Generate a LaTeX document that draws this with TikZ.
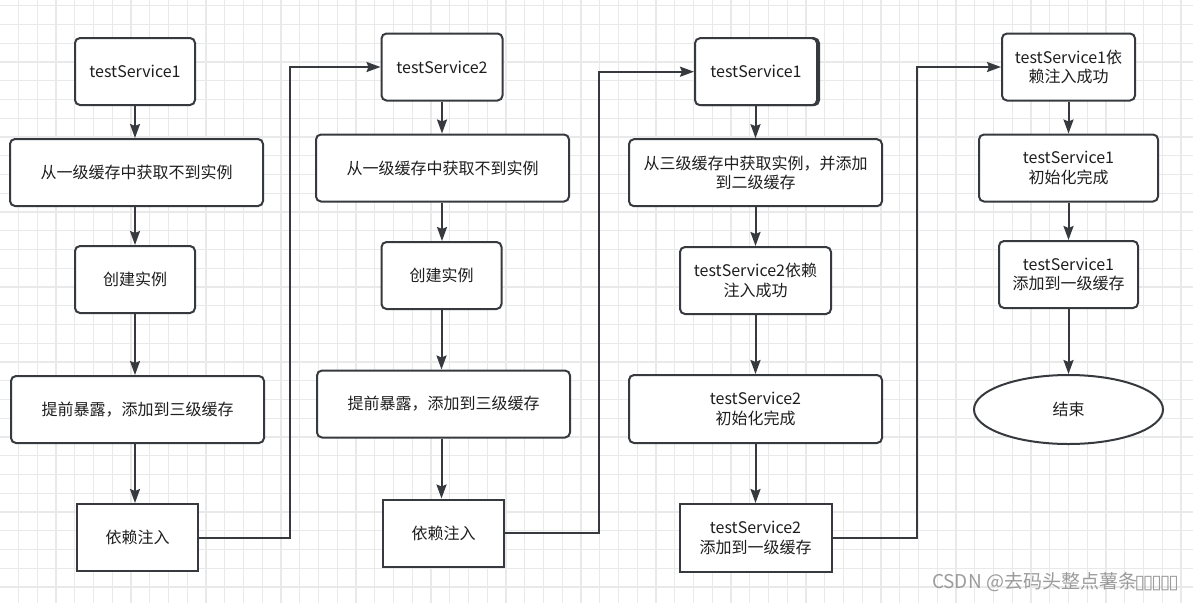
\documentclass[tikz,border=0pt]{standalone}
\usepackage{fontspec}
\setmainfont{Noto Sans CJK SC}
\newfontfamily\symfont{DejaVu Sans}
\usetikzlibrary{arrows.meta,shapes.geometric,calc}
\definecolor{edge}{HTML}{36393D}
\definecolor{txt}{HTML}{1E1E1E}
\definecolor{gridc}{HTML}{E9E9E9}
\definecolor{wm}{HTML}{9C9C9C}
\tikzset{
  gridline/.style={draw=gridc,line width=1.4pt},
  box/.style={draw=edge,line width=2pt,fill=white,rounded corners=5pt,align=center,
    text=txt,font=\fontsize{16}{19.5}\selectfont,inner sep=0pt},
  sqbox/.style={box,rounded corners=0pt},
  endnode/.style={draw=edge,line width=2pt,fill=white,ellipse,inner sep=0pt,
    text=txt,font=\fontsize{16}{19.5}\selectfont},
  arr/.style={draw=edge,line width=2pt,-{Stealth[length=14pt,width=10pt,inset=2pt]}},
}
\begin{document}
\begin{tikzpicture}[x=1pt,y=-1pt]
\useasboundingbox (0,0) rectangle (1193,603);
\fill[white] (0,0) rectangle (1193,603);
% grid
\foreach \i in {0,...,62} { \draw[gridline] ({18.5+\i*18.75},0) -- ({18.5+\i*18.75},603); }
\foreach \j in {0,...,31} { \draw[gridline] (0,{5.7+\j*18.75}) -- (1193,{5.7+\j*18.75}); }

% column 1
\node[box,minimum width=120pt,minimum height=67pt] (a1) at (135,71.5) {testService1};
\node[box,minimum width=253pt,minimum height=67pt] (a2) at (136.5,172.5) {从一级缓存中获取不到实例};
\node[box,minimum width=120pt,minimum height=67pt] (a3) at (135,279.5) {创建实例};
\node[box,minimum width=253pt,minimum height=67pt] (a4) at (137.5,409.5) {提前暴露，添加到三级缓存};
\node[sqbox,minimum width=121pt,minimum height=67pt] (a5) at (137.5,537.5) {依赖注入};

% column 2
\node[box,minimum width=121pt,minimum height=67pt] (b1) at (442,67) {testService2};
\node[box,minimum width=253pt,minimum height=67pt] (b2) at (442.5,168) {从一级缓存中获取不到实例};
\node[box,minimum width=120pt,minimum height=67pt] (b3) at (441.5,275.5) {创建实例};
\node[box,minimum width=253pt,minimum height=67pt] (b4) at (443.5,404) {提前暴露，添加到三级缓存};
\node[sqbox,minimum width=121pt,minimum height=67pt] (b5) at (443.5,533) {依赖注入};

% column 3
\node[box,minimum width=122pt,minimum height=67pt] (c1s) at (758,71.7) {};
\node[box,minimum width=122pt,minimum height=67pt] (c1) at (756,71.7) {testService1};
\node[box,minimum width=253pt,minimum height=67pt] (c2) at (755.5,172.7) {从三级缓存中获取实例，并添加\\到二级缓存};
\node[box,minimum width=151pt,minimum height=67pt] (c3) at (755.5,280.5) {testService2依赖\\注入成功};
\node[box,minimum width=253pt,minimum height=68pt] (c4) at (755.5,409) {testService2\\初始化完成};
\node[sqbox,minimum width=152pt,minimum height=68pt] (c5) at (755.5,538) {testService2\\添加到一级缓存};

% column 4
\node[box,minimum width=133pt,minimum height=67pt] (d1) at (1068.5,67) {testService1依\\赖注入成功};
\node[box,minimum width=179pt,minimum height=67pt] (d2) at (1068.5,168) {testService1\\初始化完成};
\node[box,minimum width=139pt,minimum height=67pt] (d3) at (1068.5,274.5) {testService1\\添加到一级缓存};
\node[endnode,minimum width=189pt,minimum height=69pt] (d4) at (1068.5,409.5) {结束};

% vertical arrows
\draw[arr] (a1.south) -- (a1.south |- a2.north);
\draw[arr] (a1.south |- a2.south) -- (a1.south |- a3.north);
\draw[arr] (a3.south) -- (a3.south |- a4.north);
\draw[arr] (a3.south |- a4.south) -- (a3.south |- a5.north);

\draw[arr] (b1.south) -- (b1.south |- b2.north);
\draw[arr] (b1.south |- b2.south) -- (b1.south |- b3.north);
\draw[arr] (b3.south) -- (b3.south |- b4.north);
\draw[arr] (b3.south |- b4.south) -- (b3.south |- b5.north);

\draw[arr] (c1.south -| c2.north) -- (c2.north);
\draw[arr] (c3.north |- c2.south) -- (c3.north);
\draw[arr] (c3.south) -- (c4.north);
\draw[arr] (c4.south) -- (c5.north);

\draw[arr] (d1.south) -- (d2.north);
\draw[arr] (d2.south) -- (d3.north);
\draw[arr] (d3.south) -- (d4.north);

% cross-column connectors
\coordinate (k1) at (290,0);
\coordinate (k2) at (599,0);
\coordinate (k3) at (917,0);
\draw[arr] (a5.east) -- (a5.east -| k1) -- (k1 |- b1.west) -- (b1.west);
\draw[arr] (b5.east) -- (b5.east -| k2) -- (k2 |- c1.west) -- (c1.west);
\draw[arr] (c5.east) -- (c5.east -| k3) -- (k3 |- d1.west) -- (d1.west);

% watermark
\node[anchor=base east,text=wm,font=\fontsize{19}{22}\selectfont,inner sep=0pt] (wmk) at (1179,588)
  {CSDN @去码头整点薯条{\symfont\fontsize{19}{22}\selectfont\kern-2.5pt ▯\kern-2pt▯\kern-2pt▯\kern-2pt▯\kern-2pt▯}};
\end{tikzpicture}
\end{document}
